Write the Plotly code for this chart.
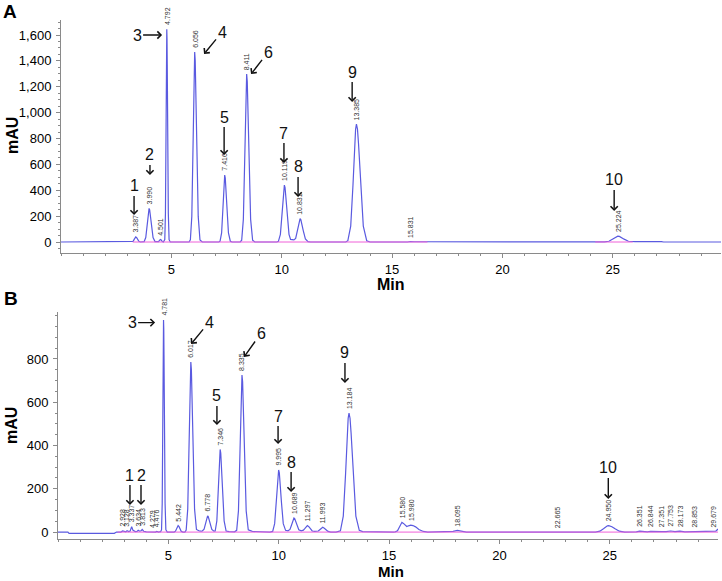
import plotly.graph_objects as go

# ---------------- Panel A data (retention time in min, absorbance in mAU) ----------------
time_a = [0, 3.15,
          3.207, 3.267, 3.315, 3.351, 3.387, 3.429, 3.471, 3.527, 3.597,
          3.765, 3.84, 3.90, 3.945, 3.966, 3.99, 4.017, 4.044, 4.098, 4.17, 4.26,
          4.381, 4.421, 4.453, 4.477, 4.501, 4.528, 4.555, 4.591, 4.636,
          4.702, 4.732, 4.756, 4.774, 4.783, 4.792, 4.8025, 4.813, 4.834, 4.862, 4.897, 4.95,
          5.8, 5.861, 5.926, 5.978, 6.017, 6.0365, 6.056, 6.08, 6.104, 6.152, 6.216, 6.296, 6.4,
          7.15, 7.206, 7.276, 7.332, 7.374, 7.395, 7.416, 7.442, 7.467, 7.518, 7.586, 7.671, 7.75,
          8.12, 8.186, 8.261, 8.321, 8.366, 8.3885, 8.411, 8.438, 8.465, 8.519, 8.591, 8.681, 8.78,
          9.78, 9.849, 9.939, 10.011, 10.065, 10.092, 10.119, 10.15, 10.182, 10.245, 10.329, 10.40, 10.48,
          10.55, 10.631, 10.711, 10.771, 10.801, 10.831, 10.867, 10.903, 10.975, 11.071, 11.191, 11.3,
          12.9, 12.995, 13.125, 13.229, 13.307, 13.346, 13.385, 13.431, 13.478, 13.571, 13.695, 13.85, 14.0,
          15.7, 15.831, 16.0, 16.5, 16.65,
          24.55, 24.624, 24.824, 24.984, 25.104, 25.164, 25.224, 25.296, 25.368, 25.512, 25.704, 25.944,
          26.0, 27.2, 27.3, 29.9]
mau_a = [0, 0,
         0, 5, 20, 33, 40, 33, 20, 5, 0,
         3, 35, 127, 217, 248, 260, 248, 217, 127, 35, 3,
         0, 3, 10, 17, 20, 17, 10, 3, 0,
         18, 222, 801, 1374, 1573, 1645, 1573, 1374, 801, 222, 18, 0,
         0, 16, 198, 715, 1226, 1403, 1468, 1403, 1226, 715, 198, 16, 0,
         0, 6, 70, 252, 432, 495, 518, 495, 432, 252, 70, 6, 0,
         0, 14, 175, 632, 1084, 1241, 1298, 1241, 1084, 632, 175, 14, 0,
         0, 5, 59, 214, 367, 421, 440, 421, 367, 214, 59, 20, 15,
         16, 28, 88, 150, 172, 180, 172, 150, 88, 24, 3, 0,
         0, 10, 123, 444, 762, 872, 912, 872, 762, 444, 123, 10, 0,
         0, 4, 2, 2, 0,
         0, 1, 6, 22, 38, 43, 45, 43, 38, 22, 6, 2,
         3, 3, 0, 0]
peak_rt_a = [3.387, 3.990, 4.501, 4.792, 6.056, 7.416, 8.411, 10.119, 10.831, 13.385, 15.831, 25.224]
peak_h_a = [40, 260, 20, 1645, 1468, 518, 1298, 440, 180, 912, 4, 45]
base_a_x = [3.25, 16.6, None, 24.2, 25.9]
base_a_y = [0, 0, None, 0, 0]

# compound numbers: label, arrow-head time, arrow-head mAU, text offset x, offset y (px)
cmp_lab_a = ["1", "2", "3", "4", "5", "6", "7", "8", "9", "10"]
cmp_t_a = [3.31, 4.03, 4.58, 6.48, 7.39, 8.61, 10.10, 10.74, 13.19, 25.06]
cmp_v_a = [209, 518, 1600, 1453, 672, 1298, 610, 348, 1082, 240]
cmp_ax_a = [0, 0, -25, 18, 0, 17, 0, 0, 0, 0]
cmp_ay_a = [-29, -20, 0, -22, -38, -22, -30, -30, -30, -31]

# ---------------- Panel B data ----------------
time_b = [0, 0.45, 0.5, 2.55, 2.65,
          2.85, 2.928, 3.0, 3.07, 3.128, 3.2, 3.27, 3.337, 3.40, 3.5, 3.58, 3.634, 3.7, 3.76, 3.813,
          3.88, 4.0, 4.2, 4.279, 4.35, 4.42, 4.476, 4.55, 4.65,
          4.691, 4.721, 4.745, 4.763, 4.772, 4.781, 4.7915, 4.802, 4.823, 4.851, 4.886, 4.95,
          5.2, 5.262, 5.322, 5.37, 5.406, 5.442, 5.484, 5.526, 5.582, 5.652, 5.75,
          5.807, 5.877, 5.933, 5.975, 5.996, 6.017, 6.0425, 6.068, 6.119, 6.187, 6.272, 6.4, 6.5,
          6.538, 6.618, 6.682, 6.73, 6.754, 6.778, 6.8065, 6.835, 6.892, 6.968, 7.063,
          7.121, 7.196, 7.256, 7.301, 7.3235, 7.346, 7.373, 7.4, 7.454, 7.526, 7.616, 7.75, 8.0,
          8.095, 8.175, 8.239, 8.287, 8.311, 8.335, 8.3635, 8.392, 8.449, 8.525, 8.62, 8.8, 9.6,
          9.725, 9.815, 9.887, 9.941, 9.968, 9.995, 10.0265, 10.058, 10.121, 10.205, 10.31, 10.419,
          10.509, 10.581, 10.635, 10.662, 10.689, 10.722, 10.755, 10.821, 10.909, 11.019,
          11.117, 11.189, 11.243, 11.297, 11.363, 11.429, 11.517, 11.627,
          11.793, 11.873, 11.933, 11.993, 12.065, 12.137, 12.233, 12.353, 12.6,
          12.794, 12.924, 13.028, 13.106, 13.145, 13.184, 13.2305, 13.277, 13.37, 13.494, 13.649, 13.8, 15.2,
          15.28, 15.38, 15.46, 15.52, 15.58, 15.65, 15.72, 15.80, 15.88, 15.98, 16.08, 16.2, 16.35, 16.55, 16.75,
          17.75, 17.9, 18.095, 18.3, 18.5,
          22.6, 22.665, 22.75,
          24.35, 24.55, 24.71, 24.83, 24.89, 24.95, 25.022, 25.094, 25.238, 25.43, 25.67,
          26.1, 26.2, 26.351, 26.55, 26.7, 26.844, 27.1, 27.351, 27.55, 27.753, 27.95, 28.173, 28.4,
          28.853, 29.4, 29.679, 29.8, 29.9]
mau_b = [0, 0, -6, -6, 0,
         0, 5, 1, 1, 6, 2, 5, 25, 8, 2, 3, 8, 4, 6, 12,
         4, 1, 0, 3, 0, 0, 3, 0, 2,
         11, 132, 477, 818, 937, 980, 937, 818, 477, 132, 11, 0,
         0, 0, 4, 15, 25, 30, 25, 15, 4, 0, 0,
         9, 106, 383, 656, 751, 786, 751, 656, 383, 106, 12, 5, 4,
         5, 13, 38, 63, 72, 75, 72, 63, 37, 12, 4,
         5, 52, 186, 319, 365, 382, 365, 319, 186, 52, 5, 2, 1,
         8, 98, 354, 606, 694, 726, 694, 606, 354, 98, 10, 3, 0,
         3, 39, 140, 240, 274, 287, 274, 240, 140, 39, 8, 6,
         12, 33, 54, 62, 65, 62, 54, 32, 11, 6,
         9, 17, 26, 30, 25, 15, 5, 3,
         5, 12, 18, 22, 18, 11, 3, 0, 0,
         6, 74, 268, 459, 526, 550, 526, 459, 268, 74, 8, 2, 0,
         1, 6, 22, 38, 45, 40, 31, 26, 29, 32, 30, 24, 12, 3, 0,
         0, 3, 8, 3, 0,
         0, 1, 0,
         0, 4, 15, 25, 29, 30, 29, 25, 15, 4, 0,
         0, 1, 4, 2, 1, 3, 1, 2, 2, 5, 2, 4, 1,
         2, 1, 3, 4, 14]
peak_rt_b = [2.928, 3.128, 3.337, 3.634, 3.813, 4.279, 4.476, 4.781, 5.442, 6.017, 6.778, 7.346,
             8.335, 9.995, 10.689, 11.297, 11.993, 13.184, 15.580, 15.980, 18.095, 22.665, 24.950,
             26.351, 26.844, 27.351, 27.753, 28.173, 28.853, 29.679]
peak_h_b = [5, 6, 25, 8, 12, 3, 3, 980, 30, 786, 75, 382,
            726, 287, 65, 30, 22, 550, 45, 32, 8, 1, 30,
            4, 3, 2, 5, 4, 2, 3]
base_b_x = [2.7, 29.9]
base_b_y = [0, 0]

cmp_lab_b = ["1", "2", "3", "4", "5", "6", "7", "8", "9", "10"]
cmp_t_b = [3.26, 3.76, 4.40, 6.03, 7.20, 8.43, 9.97, 10.56, 13.00, 24.93]
cmp_v_b = [125, 125, 968, 869, 495, 809, 407, 185, 689, 153]
cmp_ax_b = [0, 0, -23, 18, 0, 17, 0, 0, 0, 0]
cmp_ay_b = [-30, -30, 0, -22, -29, -24, -28, -30, -30, -31]

# ---------------- styling ----------------
W, H = 722, 581
FONT = "Arial, Liberation Sans, sans-serif"
LINE = "#5a5ae0"
BASE = "#f060d8"
AXC = "#8a8a8a"


def px(x):
    return x / W


def py(y):
    return 1 - y / H


fig = go.Figure()
fig.add_trace(go.Scatter(x=time_a, y=mau_a, mode="lines", line=dict(color=LINE, width=1.2),
                         xaxis="x", yaxis="y", showlegend=False, hoverinfo="skip"))
fig.add_trace(go.Scatter(x=base_a_x, y=base_a_y, mode="lines", line=dict(color=BASE, width=1),
                         xaxis="x", yaxis="y", showlegend=False, hoverinfo="skip"))
fig.add_trace(go.Scatter(x=time_b, y=mau_b, mode="lines", line=dict(color=LINE, width=1.2),
                         xaxis="x2", yaxis="y2", showlegend=False, hoverinfo="skip"))
fig.add_trace(go.Scatter(x=base_b_x, y=base_b_y, mode="lines", line=dict(color=BASE, width=1),
                         xaxis="x2", yaxis="y2", showlegend=False, hoverinfo="skip"))

annotations = []


def rt_labels(rts, hs, xr, yr):
    for t, h in zip(rts, hs):
        annotations.append(dict(x=t, y=h, xref=xr, yref=yr, text=f"{t:.3f}", showarrow=False,
                                textangle=-90, xanchor="center", yanchor="bottom", yshift=2,
                                font=dict(family=FONT, size=7, color="#333333")))


def cmp_labels(labs, ts, vs, axs, ays, xr, yr):
    for lab, t, v, ax, ay in zip(labs, ts, vs, axs, ays):
        annotations.append(dict(x=t, y=v, xref=xr, yref=yr, text=lab, showarrow=True,
                                ax=ax, ay=ay, arrowhead=4, arrowsize=1, arrowwidth=1.4,
                                arrowcolor="#111111", standoff=0, startstandoff=0,
                                font=dict(family=FONT, size=16, color="#111111")))


rt_labels(peak_rt_a, peak_h_a, "x", "y")
rt_labels(peak_rt_b, peak_h_b, "x2", "y2")
cmp_labels(cmp_lab_a, cmp_t_a, cmp_v_a, cmp_ax_a, cmp_ay_a, "x", "y")
cmp_labels(cmp_lab_b, cmp_t_b, cmp_v_b, cmp_ax_b, cmp_ay_b, "x2", "y2")

# panel letters and axis titles
for txt, x, y in [("A", 1, 11), ("B", 2, 298)]:
    annotations.append(dict(x=px(x), y=py(y), xref="paper", yref="paper", text=f"<b>{txt}</b>",
                            showarrow=False, xanchor="left", yanchor="middle",
                            font=dict(family=FONT, size=19, color="black")))
for y in (136, 426):
    annotations.append(dict(x=px(12), y=py(y), xref="paper", yref="paper", text="<b>mAU</b>",
                            showarrow=False, textangle=-90, xanchor="center", yanchor="middle",
                            font=dict(family=FONT, size=16, color="black")))
annotations.append(dict(x=px(391), y=py(284), xref="paper", yref="paper", text="<b>Min</b>",
                        showarrow=False, xanchor="center", yanchor="middle",
                        font=dict(family=FONT, size=16, color="black")))
annotations.append(dict(x=px(391), y=0, xref="paper", yref="paper", text="<b>Min</b>",
                        showarrow=False, xanchor="center", yanchor="bottom", borderpad=0,
                        font=dict(family=FONT, size=15, color="black")))

xcommon = dict(range=[0, 29.9], tickvals=[5, 10, 15, 20, 25], ticks="outside", ticklen=4,
               tickcolor=AXC, showline=True, linecolor=AXC, linewidth=1, showgrid=False,
               zeroline=False, tickfont=dict(family=FONT, size=13, color="black"),
               minor=dict(dtick=1, tick0=0, ticks="outside", ticklen=2, tickcolor=AXC))
ycommon = dict(ticks="outside", ticklen=4, tickcolor=AXC, showline=True, linecolor=AXC,
               linewidth=1, showgrid=False, zeroline=False, tickformat=",d",
               ticklabelstandoff=2,
               tickfont=dict(family=FONT, size=13, color="black"),
               minor=dict(dtick=50, tick0=0, ticks="outside", ticklen=2, tickcolor=AXC))

fig.update_layout(
    width=W, height=H, margin=dict(l=0, r=0, t=0, b=0),
    paper_bgcolor="white", plot_bgcolor="white", showlegend=False,
    xaxis=dict(domain=[px(61), px(721)], anchor="y", **xcommon),
    yaxis=dict(domain=[py(253), py(20)], anchor="x", range=[-85, 1716],
               tickvals=list(range(0, 1601, 200)), **ycommon),
    xaxis2=dict(domain=[px(58), px(718)], anchor="y2", **xcommon),
    yaxis2=dict(domain=[py(539), py(312)], anchor="x2", range=[-32, 1017],
                tickvals=list(range(0, 801, 200)), **ycommon),
    annotations=annotations,
)

# remove the browser's default 8 px body margin so the figure sits at the page origin
fig.write_html("out.html", config={"displayModeBar": False},
               post_script="document.body.style.margin='0';document.body.style.overflow='hidden';")
